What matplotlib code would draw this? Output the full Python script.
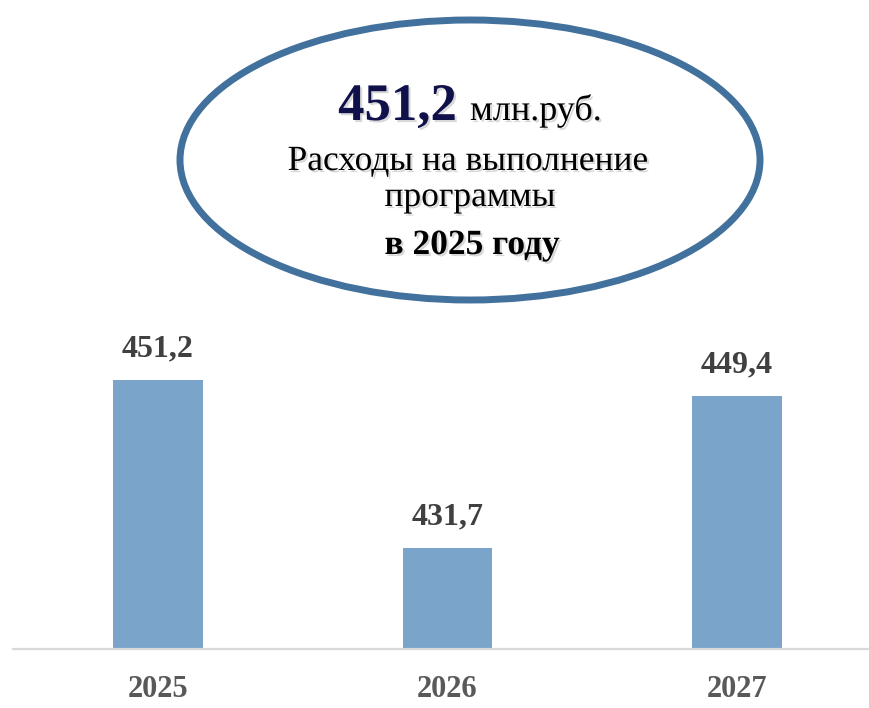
import matplotlib
matplotlib.use("Agg")
import matplotlib.pyplot as plt
from matplotlib.patches import Ellipse
import matplotlib.patheffects as pe

plt.rcParams["font.family"] = ["Liberation Serif", "DejaVu Serif"]

## data
years = ["2025", "2026", "2027"]
values = [451.2, 431.7, 449.4]
value_labels = ["451,2", "431,7", "449,4"]
total_label = "451,2"

W, H = 870, 708
fig = plt.figure(figsize=(W / 100, H / 100), dpi=100)

## bar axes (pixel box: left 13, right 882, bottom 649, top 304)
ax = fig.add_axes([13 / W, (H - 649) / H, 869 / W, (649 - 304.4) / H])
x = range(len(years))
ax.bar(x, values, width=0.31, color="#7BA4CA", zorder=2)
ax.set_xlim(-0.5, 2.5)
ax.set_ylim(420, 460)
for s in ["top", "right", "left"]:
    ax.spines[s].set_visible(False)
ax.spines["bottom"].set_color("#D9D9D9")
ax.spines["bottom"].set_linewidth(1.6)
ax.set_yticks([])
ax.set_xticks(list(x))
ax.set_xticklabels(years, fontsize=22, fontweight="bold", color="#595959")
ax.tick_params(axis="x", length=0, pad=19)

for i, v in enumerate(values):
    ax.annotate(value_labels[i], (i, v), xytext=(0, 12), textcoords="offset points",
                ha="center", va="bottom", fontsize=23, fontweight="bold",
                color="#404040")

## overlay in pixel coordinates for the ellipse callout
ov = fig.add_axes([0, 0, 1, 1])
ov.set_xlim(0, W)
ov.set_ylim(H, 0)
ov.axis("off")
ov.patch.set_alpha(0)
ov.add_patch(Ellipse((470, 160), 580, 280, facecolor="white",
                     edgecolor="#41719C", linewidth=5))

shadow = [pe.withSimplePatchShadow(offset=(1.5, -1.5), shadow_rgbFace="#909090", alpha=0.35)]

ov.text(470, 120, total_label + " ", ha="right", va="baseline", fontsize=38,
        fontweight="bold", color="#10104A", path_effects=shadow)
ov.text(470, 120, "млн.руб.", ha="left", va="baseline", fontsize=26,
        color="#000000", path_effects=shadow)
ov.text(468, 170, "Расходы на выполнение", ha="center", va="baseline",
        fontsize=25.5, color="#000000", path_effects=shadow)
ov.text(470, 206, "программы", ha="center", va="baseline",
        fontsize=25.5, color="#000000", path_effects=shadow)
ov.text(472, 254, "в 2025 году", ha="center", va="baseline",
        fontsize=25.5, fontweight="bold", color="#000000", path_effects=shadow)

fig.savefig("out.png", dpi=100, facecolor="white")
